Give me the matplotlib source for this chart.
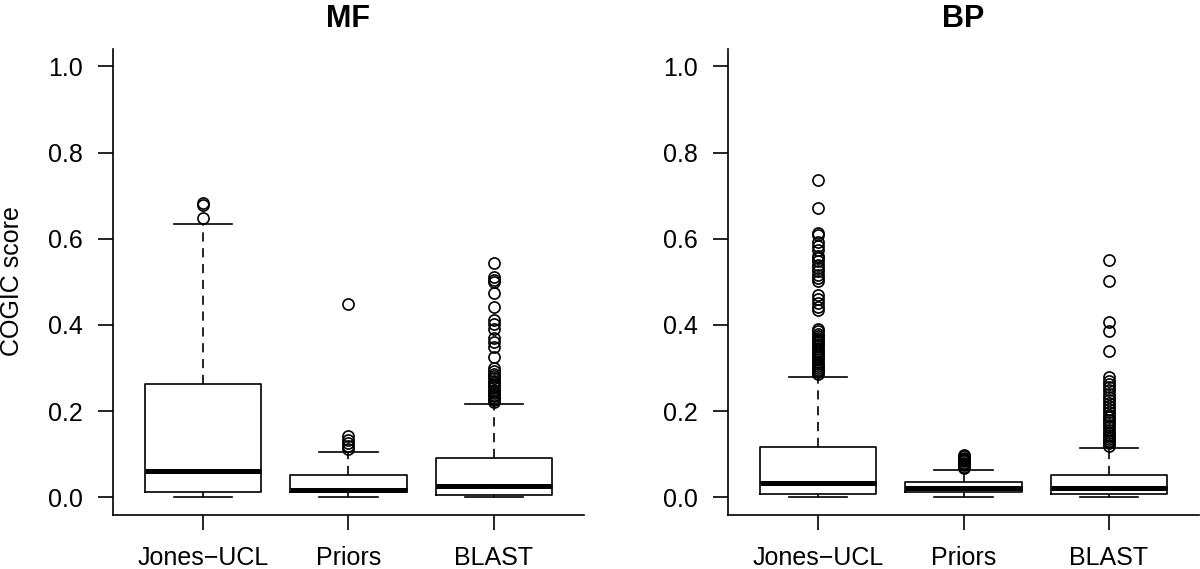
import matplotlib
matplotlib.use('Agg')
import matplotlib.pyplot as plt

plt.rcParams['font.family'] = ['Liberation Sans', 'DejaVu Sans']

labels = ['Jones\u2212UCL', 'Priors', 'BLAST']
titles = ['MF', 'BP']

# MF box stats
mf_q1 = [0.012, 0.012, 0.005]
mf_med = [0.062, 0.018, 0.027]
mf_q3 = [0.262, 0.052, 0.091]
mf_lo = [0.0, 0.0, 0.0]
mf_hi = [0.633, 0.106, 0.216]
mf_out = [
    [0.649, 0.678, 0.682],
    [0.112, 0.118, 0.126, 0.134, 0.142, 0.449],
    [0.544, 0.511, 0.505, 0.500, 0.474, 0.441, 0.411, 0.402, 0.391, 0.370,
     0.360, 0.349, 0.326, 0.299, 0.292, 0.287, 0.281, 0.276, 0.270, 0.265,
     0.260, 0.255, 0.250, 0.246, 0.242, 0.238, 0.234, 0.230, 0.226, 0.222],
]

# BP box stats
bp_q1 = [0.0085, 0.012, 0.007]
bp_med = [0.034, 0.021, 0.0225]
bp_q3 = [0.1175, 0.035, 0.051]
bp_lo = [0.0, 0.0, 0.0]
bp_hi = [0.278, 0.064, 0.115]
bp_out = [
    [0.737, 0.671, 0.613, 0.608, 0.592, 0.582, 0.573, 0.561, 0.555, 0.548,
     0.540, 0.532, 0.524, 0.516, 0.508, 0.503, 0.469, 0.460, 0.450, 0.441,
     0.435, 0.391, 0.385, 0.380, 0.375, 0.370, 0.365, 0.360, 0.355, 0.350,
     0.345, 0.340, 0.335, 0.330, 0.325, 0.320, 0.315, 0.310, 0.305, 0.300,
     0.295, 0.290, 0.285],
    [0.068, 0.071, 0.074, 0.077, 0.080, 0.083, 0.086, 0.089, 0.092, 0.095, 0.097],
    [0.550, 0.503, 0.407, 0.385, 0.340, 0.278, 0.270, 0.262, 0.255, 0.248,
     0.240, 0.232, 0.225, 0.218, 0.211, 0.204, 0.198, 0.192, 0.186, 0.180,
     0.174, 0.168, 0.162, 0.156, 0.150, 0.145, 0.140, 0.135, 0.130, 0.125,
     0.120],
]


def make_stats(q1, med, q3, lo, hi, out):
    stats = []
    for i in range(len(labels)):
        stats.append(dict(q1=q1[i], med=med[i], q3=q3[i], whislo=lo[i],
                          whishi=hi[i], fliers=out[i], label=labels[i]))
    return stats


panels = [make_stats(mf_q1, mf_med, mf_q3, mf_lo, mf_hi, mf_out),
          make_stats(bp_q1, bp_med, bp_q3, bp_lo, bp_hi, bp_out)]

fig = plt.figure(figsize=(12, 5.69), dpi=100)
lefts = [113 / 1200, 728 / 1200]
W = 471 / 1200
B = 54.5 / 569
H = 465.4 / 569
LW = 1.2

for k in range(2):
    ax = fig.add_axes([lefts[k], B, W, H])
    ax.bxp(panels[k], positions=[1, 2, 3], widths=0.8, capwidths=0.4,
           showfliers=True,
           boxprops=dict(color='black', linewidth=LW),
           medianprops=dict(color='black', linewidth=3.6, solid_capstyle='butt'),
           whiskerprops=dict(color='black', linewidth=LW, linestyle=(0, (5.5, 4))),
           capprops=dict(color='black', linewidth=LW),
           flierprops=dict(marker='o', markerfacecolor='none', markeredgecolor='black',
                           markersize=8, markeredgewidth=1.2, linestyle='none'))
    ax.set_xlim(0.38, 3.62)
    ax.set_ylim(-0.04, 1.04)
    ax.set_yticks([0.0, 0.2, 0.4, 0.6, 0.8, 1.0])
    ax.set_yticklabels(['0.0', '0.2', '0.4', '0.6', '0.8', '1.0'])
    ax.set_xticks([1, 2, 3])
    ax.set_xticklabels(labels)
    for s in ['top', 'right']:
        ax.spines[s].set_visible(False)
    for s in ['left', 'bottom']:
        ax.spines[s].set_linewidth(LW)
    ax.tick_params(axis='both', direction='out', length=10.8, width=LW, labelsize=18)
    ax.tick_params(axis='y', pad=11)
    ax.tick_params(axis='x', pad=12)
    ax.text(0.5, 1.064, titles[k], transform=ax.transAxes, ha='center', va='center',
            fontsize=22, fontweight='bold')

fig.text(12 / 1200, 0.5 + (569 / 2 - 281.5) / 569, 'COGIC score', rotation=90,
         ha='center', va='center', fontsize=18)

plt.savefig('out.png', dpi=100)
